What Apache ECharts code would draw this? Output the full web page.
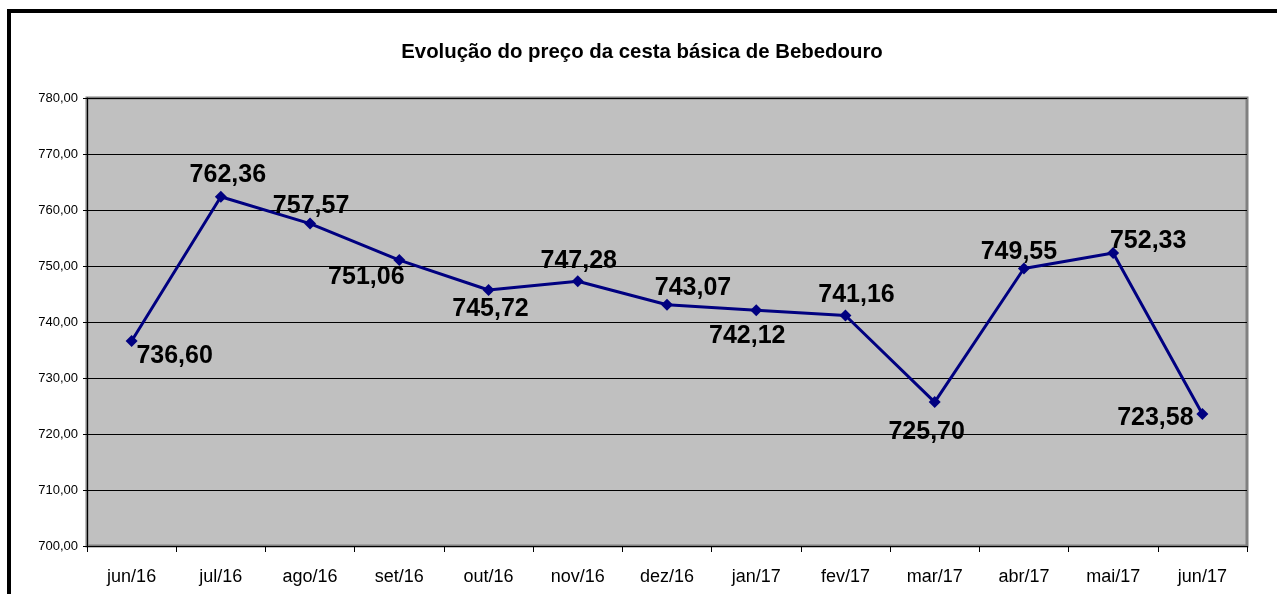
<!DOCTYPE html>
<html>
<head>
<meta charset="utf-8">
<script src="https://cdn.jsdelivr.net/npm/echarts@6/dist/echarts.min.js"></script>
<style>
html,body{margin:0;padding:0;background:#fff;}
#c{width:1277px;height:594px;}
</style>
</head>
<body>
<div id="c"></div>
<script>
const categories = ['jun/16','jul/16','ago/16','set/16','out/16','nov/16','dez/16','jan/17','fev/17','mar/17','abr/17','mai/17','jun/17'];
const prices = [736.60, 762.36, 757.57, 751.06, 745.72, 747.28, 743.07, 742.12, 741.16, 725.70, 749.55, 752.33, 723.58];
const yTicks = { min: 700, max: 780, interval: 10 };
const titleText = 'Evolução do preço da cesta básica de Bebedouro';

// label placement (style only)
const labelOffsets = [[43,15],[7,-22],[1,-17],[-33,17],[2,19],[1,-20],[26,-17],[-9,26],[11,-20],[-8,30],[-5,-16],[35,-12],[-47,4]];

const fmt = v => v.toFixed(2).replace('.', ',');

const chart = echarts.init(document.getElementById('c'), null, {renderer:'canvas'});
const FONT = 'Arial, "Liberation Sans", sans-serif';

chart.setOption({
  animation: false,
  textStyle: { fontFamily: FONT },
  title: {
    text: titleText,
    left: 637, top: 37, textAlign: 'center',
    textStyle: { fontFamily: FONT, fontSize: 20.4, fontWeight: 'bold', color: '#000' }
  },
  grid: {
    left: 87, top: 98, right: 30, bottom: 48,
    show: true, backgroundColor: '#C0C0C0', borderColor: '#808080', borderWidth: 3
  },
  xAxis: {
    type: 'category',
    data: categories,
    boundaryGap: true,
    axisLine: { show: true, lineStyle: { color: '#000', width: 1 } },
    axisTick: { show: true, length: 6, lineStyle: { color: '#000' } },
    axisLabel: { margin: 22, fontSize: 18, color: '#000', fontFamily: FONT, interval: 0 },
    splitLine: { show: false }
  },
  yAxis: {
    type: 'value',
    min: yTicks.min, max: yTicks.max, interval: yTicks.interval,
    axisLine: { show: true, lineStyle: { color: '#000', width: 1 } },
    axisTick: { show: true, length: 4, lineStyle: { color: '#000' } },
    axisLabel: { margin: 9, fontSize: 13, color: '#000', fontFamily: FONT, formatter: v => fmt(v) },
    splitLine: { show: true, lineStyle: { color: '#000', width: 1 } }
  },
  series: [{
    type: 'line',
    data: prices.map((v, i) => ({
      value: v,
      label: { offset: labelOffsets[i] }
    })),
    symbol: 'diamond',
    symbolSize: 12,
    showAllSymbol: true,
    itemStyle: { color: '#000080' },
    lineStyle: { color: '#000080', width: 3 },
    label: {
      show: true, position: 'inside',
      formatter: p => fmt(p.value),
      fontSize: 25, fontWeight: 'bold', color: '#000', fontFamily: FONT
    },
    z: 5
  }],
  graphic: [
    { type: 'rect', shape: { x: 7, y: 9, width: 4, height: 600 }, style: { fill: '#000' }, z: 100 },
    { type: 'rect', shape: { x: 7, y: 9, width: 1280, height: 4 }, style: { fill: '#000' }, z: 100 }
  ]
});
</script>
</body>
</html>
